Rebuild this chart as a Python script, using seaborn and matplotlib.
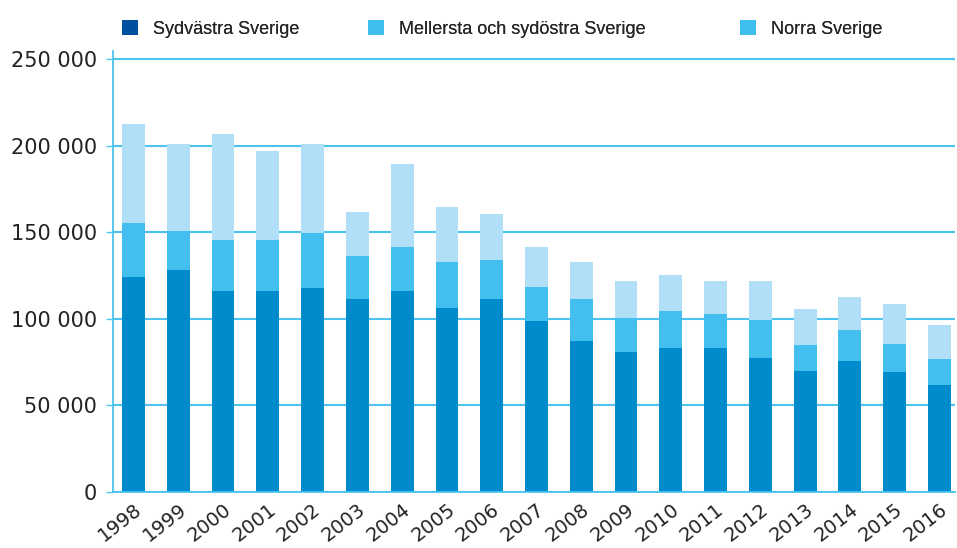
import numpy as np
import pandas as pd
import matplotlib
matplotlib.use("Agg")
import matplotlib.pyplot as plt
import seaborn as sns
from matplotlib.patches import Patch
from matplotlib.ticker import FuncFormatter

# Data
years = [str(y) for y in range(1998, 2017)]
sydvastra = [124100, 128100, 116000, 116000, 117700, 111400, 116000, 106200, 111400, 98700,
             87100, 80700, 83100, 83100, 77300, 69800, 75500, 69200, 61700]
mellersta = [31200, 22600, 29500, 29500, 31800, 24800, 25400, 26600, 22500, 19600,
             24300, 19700, 21300, 19600, 21900, 15000, 18000, 16200, 15000]
norra = [57200, 50300, 61200, 51400, 51500, 25500, 48000, 31800, 26600, 23100,
         21400, 21400, 20900, 19100, 22600, 20800, 19000, 23100, 19700]

serie_namn = ['Sydvästra Sverige', 'Mellersta och sydöstra Sverige', 'Norra Sverige']
bar_farger = ['#008bcd', '#42bfee', '#b2dff8']
legend_farger = ['#0050a0', '#40bfef', '#40bfef']
legend_x = [0.1105, 0.3675, 0.7565]  # var varje legendpost börjar
linje_farg = '#4cc3ef'

df = pd.DataFrame({'year': years, 'syd': sydvastra, 'mel': mellersta, 'norra': norra})
df['c1'] = df['syd']
df['c2'] = df['syd'] + df['mel']
df['c3'] = df['c2'] + df['norra']

sns.set_style('white')
plt.rcParams['font.family'] = ['DejaVu Sans']

fig = plt.figure(figsize=(9.57, 5.48), dpi=100)
ax = fig.add_axes([0.118, 0.1027, 0.880, 0.805])

# staplade staplar: rita kumulativa summor uppifrån och ned
for col, farg in zip(['c3', 'c2', 'c1'], bar_farger[::-1]):
    sns.barplot(data=df, x='year', y=col, color=farg, width=0.51,
                saturation=1, linewidth=0, ax=ax, zorder=2)

ax.set_ylim(0, 255000)
ax.set_xlim(-0.46, 18.35)
ax.set_yticks([0, 50000, 100000, 150000, 200000, 250000])
ax.yaxis.set_major_formatter(FuncFormatter(lambda v, p: f'{int(v):,}'.replace(',', ' ')))
ax.grid(axis='y', color=linje_farg, linewidth=1.5, zorder=0)
ax.set_axisbelow(True)
ax.set_xlabel('')
ax.set_ylabel('')

for s in ['top', 'right']:
    ax.spines[s].set_visible(False)
for s in ['left', 'bottom']:
    ax.spines[s].set_color(linje_farg)
    ax.spines[s].set_linewidth(1.3)

ax.tick_params(axis='y', left=True, length=5, color=linje_farg, width=1.0, labelsize=15,
               labelcolor='#222222', pad=6.5)
ax.tick_params(axis='x', bottom=False, length=0, labelsize=14, labelcolor='#222222', pad=6)
for lab in ax.get_xticklabels():
    lab.set_rotation(38)
    lab.set_ha('right')
    lab.set_rotation_mode('anchor')

# en legend per post för att få samma placering som förlagan
for namn, farg, xpos in zip(serie_namn, legend_farger, legend_x):
    leg = fig.legend([Patch(facecolor=farg, edgecolor='none')], [namn],
                     loc='upper left', bbox_to_anchor=(xpos, 0.993),
                     frameon=False, handlelength=0.9, handleheight=0.9,
                     handletextpad=0.8, prop={'family': 'Liberation Sans', 'size': 13})
    fig.add_artist(leg)

fig.savefig('out.png', dpi=100)
